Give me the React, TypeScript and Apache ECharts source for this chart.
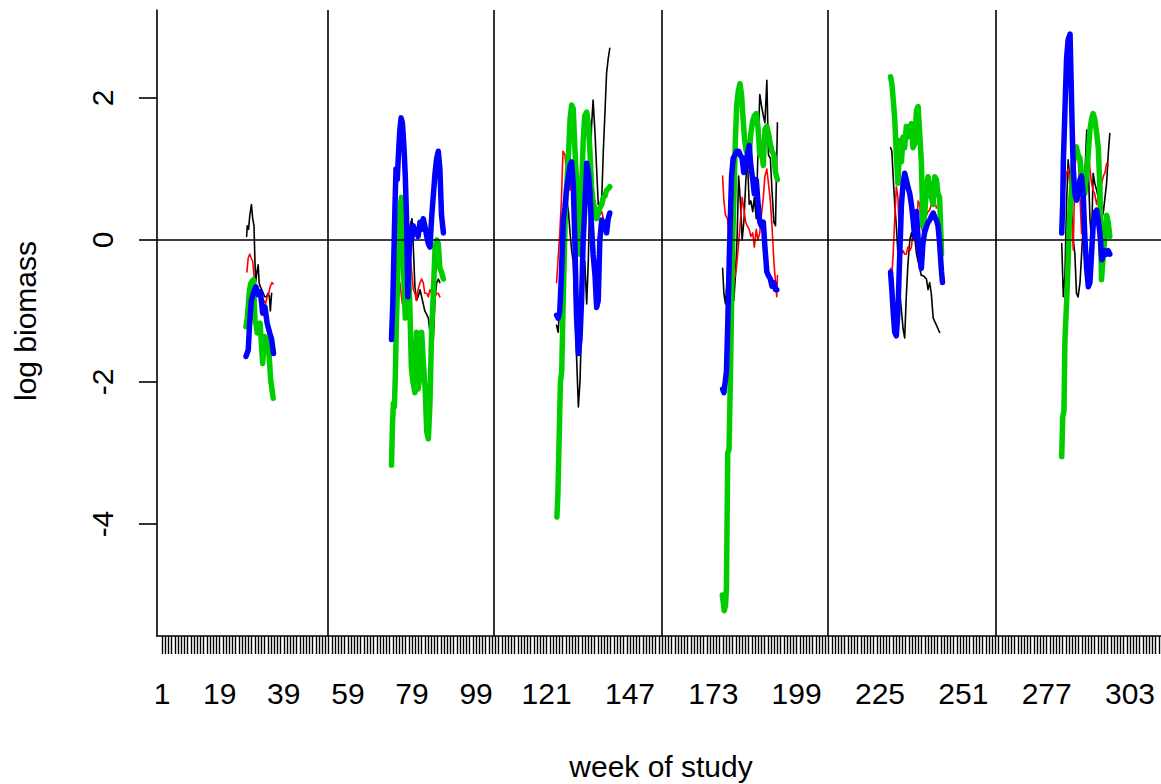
import React, { useEffect, useRef } from 'react';
import * as echarts from 'echarts';

// Axis tick labels
const xTickLabels = [1, 19, 39, 59, 79, 99, 121, 147, 173, 199, 225, 251, 277, 303];
const yTickLabels = [-4, -2, 0, 2];
const weekTicks = Array.from({ length: 312 }, (_, i) => i + 1);
// Year boundaries (week of study)
const yearBreaks = [52.8, 104.6, 157.0, 208.7, 261.1];

// Each series: six seasonal segments of [week, log biomass]
const blackSegs: number[][][] = [
  [[27.4,0.05],[27.6,0.2],[28.0,0.15],[28.4,0.35],[28.9,0.5],[29.3,0.3],[29.7,0.2],[30.0,-0.3],[30.2,-0.6],[30.6,-0.45],[31.0,-0.35],[31.3,-0.6],[31.6,-0.65],[32.1,-0.7],[32.6,-0.75],[33.1,-0.8],[33.6,-0.8],[34.1,-0.75],[34.5,-0.8],[34.8,-1.0],[35.2,-0.75]],
  [[73.3,-0.9],[73.7,-1.2],[74.1,-0.8],[74.5,-0.5],[75.2,-0.3],[76.0,-0.2],[76.8,-0.1],[77.5,0.0],[78.4,0.2],[79.0,0.3],[79.4,-0.1],[79.9,-0.65],[80.4,-0.85],[80.9,-0.8],[81.5,-0.7],[82.0,-0.8],[82.5,-0.9],[83.0,-1.0],[83.6,-1.05],[84.1,-1.1],[84.6,-1.3],[85.1,-1.5],[85.6,-1.45],[86.2,-0.8],[86.7,-0.6],[87.2,-0.55],[87.7,-0.6]],
  [[124.1,-1.2],[124.6,-1.3],[125.1,-0.9],[125.6,-0.4],[126.2,0.2],[126.7,0.5],[127.2,0.6],[127.8,0.4],[128.3,0.1],[128.8,-0.15],[129.3,-0.3],[129.8,-0.9],[130.3,-1.6],[130.9,-2.35],[131.4,-2.0],[131.9,-1.2],[132.4,-0.5],[132.9,-0.3],[133.5,-0.9],[134.0,-0.3],[134.5,0.7],[135.0,1.6],[135.5,1.97],[136.1,1.5],[136.6,1.0],[137.1,0.5],[137.6,0.5],[138.2,0.6],[138.7,1.27],[139.2,1.8],[139.7,2.35],[140.2,2.55],[140.7,2.7]],
  [[175.9,-0.4],[176.3,-0.75],[176.8,-0.9],[177.4,-0.5],[177.9,-0.3],[178.4,-0.4],[178.9,-0.6],[179.4,-0.85],[179.9,-0.5],[180.4,0.0],[180.9,0.9],[181.5,0.5],[182.0,0.0],[182.6,0.3],[183.1,0.8],[183.6,1.2],[184.2,0.5],[184.7,0.55],[185.3,0.4],[185.8,0.6],[186.4,0.3],[186.9,1.2],[187.5,2.05],[188.0,1.9],[188.6,1.75],[189.1,1.65],[189.7,2.25],[190.2,1.2],[190.8,1.15],[191.3,0.7],[191.9,0.25],[192.4,0.2],[193.0,1.65]],
  [[228.3,1.3],[228.7,1.25],[229.1,0.9],[229.6,0.5],[230.1,0.2],[230.6,-0.2],[231.1,-0.7],[231.7,-1.0],[232.2,-1.25],[232.7,-1.38],[233.2,-0.8],[233.7,-0.35],[234.3,0.0],[234.8,0.1],[235.3,0.0],[235.8,0.05],[236.4,-0.2],[236.9,-0.3],[237.4,-0.4],[237.9,-0.5],[238.4,-0.5],[238.9,-0.52],[239.5,-0.55],[240.0,-0.7],[240.5,-0.6],[241.0,-0.75],[241.6,-1.1],[242.1,-1.15],[242.6,-1.2],[243.1,-1.25],[243.6,-1.3]],
  [[281.7,-0.05],[282.2,-0.8],[282.7,-0.5],[283.2,0.5],[283.7,1.13],[284.3,0.8],[284.8,0.4],[285.3,0.0],[285.8,-0.2],[286.3,-0.75],[286.8,-0.8],[287.4,-0.6],[287.9,-0.2],[288.4,0.2],[288.9,0.9],[289.5,1.55],[290.0,1.0],[290.5,0.3],[291.0,0.0],[291.5,0.94],[292.0,0.8],[292.6,0.7],[293.1,0.6],[293.6,0.5],[294.2,0.3],[294.7,0.4],[295.2,0.6],[295.7,0.8],[296.2,1.2],[296.7,1.5]],
];

const redSegs: number[][][] = [
  [[27.5,-0.45],[27.9,-0.25],[28.4,-0.2],[28.8,-0.25],[29.3,-0.3],[29.8,-0.55],[30.3,-0.65],[30.8,-0.7],[31.3,-0.75],[31.8,-0.8],[32.3,-0.85],[32.8,-0.85],[33.3,-0.9],[33.8,-0.8],[34.3,-0.75],[34.8,-0.65],[35.3,-0.6],[35.7,-0.62]],
  [[73.3,-0.4],[73.7,-0.75],[74.1,-0.95],[74.5,-0.7],[75.2,-0.6],[76.0,-0.9],[76.8,-0.6],[77.5,-0.3],[78.4,-0.2],[78.9,-0.45],[79.4,-0.7],[79.9,-0.75],[80.4,-0.85],[80.9,-0.7],[81.5,-0.6],[82.0,-0.55],[82.5,-0.6],[83.0,-0.75],[83.6,-0.75],[84.1,-0.8],[84.6,-0.7],[85.1,-0.75],[85.6,-0.8],[86.2,-0.8],[86.7,-0.75],[87.2,-0.75],[87.7,-0.8]],
  [[124.1,-0.6],[124.6,-0.25],[125.1,0.1],[125.6,0.55],[126.1,1.25],[126.7,1.2],[127.2,0.95],[127.8,0.8],[128.3,0.7],[128.8,0.9],[129.3,0.75],[129.8,0.6],[130.3,0.4],[130.9,0.5],[131.4,0.75],[131.9,0.7],[132.4,0.8],[132.9,0.9],[133.5,1.0],[134.0,0.8],[134.5,0.6],[135.0,0.5],[135.5,0.45],[136.1,0.5],[136.6,0.45],[137.1,0.4],[137.6,0.35],[138.2,0.4],[138.7,0.3]],
  [[175.9,0.9],[176.3,0.55],[176.8,0.35],[177.4,0.3],[177.9,0.1],[178.4,-0.3],[178.9,-0.45],[179.4,-0.55],[179.9,-0.5],[180.4,-0.3],[181.0,0.0],[181.5,0.3],[182.0,0.6],[182.5,0.45],[183.1,0.25],[183.6,0.2],[184.2,0.15],[184.7,0.05],[185.3,0.1],[185.8,-0.1],[186.4,0.15],[186.9,0.0],[187.5,0.1],[188.0,0.35],[188.6,0.6],[189.1,0.9],[189.7,1.0],[190.2,0.8],[190.8,0.55],[191.3,0.2],[191.9,-0.3],[192.4,-0.6],[192.8,-0.8],[193.0,-0.5]],
  [[228.3,-0.4],[228.7,-0.5],[229.1,-0.2],[229.6,0.3],[230.1,0.75],[230.6,0.6],[231.1,0.0],[231.7,-0.2],[232.2,-0.15],[232.7,-0.2],[233.2,-0.2],[233.7,-0.1],[234.3,-0.15],[234.8,-0.1],[235.3,0.1],[235.8,0.0],[236.4,0.2],[236.9,0.55],[237.4,0.5],[237.9,0.2],[238.4,0.1],[238.9,0.25],[239.5,0.35],[240.0,0.4],[240.5,0.42],[241.0,0.5],[241.6,0.52],[242.1,0.55],[242.6,0.45]],
  [[281.7,0.3],[282.2,0.6],[282.7,0.8],[283.2,0.95],[283.7,1.0],[284.3,0.75],[284.8,0.3],[285.3,-0.14],[285.8,1.0],[286.3,1.34],[286.8,1.2],[287.4,0.6],[287.9,0.09],[288.4,0.4],[288.9,0.8],[289.5,1.2],[290.0,1.31],[290.5,1.0],[291.0,0.8],[291.5,0.7],[292.0,0.65],[292.6,0.5],[293.1,0.6],[293.6,0.7],[294.2,0.8],[294.7,0.9],[295.2,0.95],[295.7,1.08],[296.2,1.05]],
];

const greenSegs: number[][][] = [
  [[27.2,-1.22],[27.6,-1.1],[27.9,-0.94],[28.3,-0.7],[28.7,-0.61],[29.1,-0.58],[29.5,-0.56],[30.0,-1.13],[30.4,-1.2],[30.7,-1.31],[31.1,-1.25],[31.6,-1.17],[32.0,-1.45],[32.4,-1.74],[32.8,-1.5],[33.1,-1.36],[33.6,-1.4],[34.2,-1.5],[34.6,-1.75],[34.9,-1.97],[35.3,-2.1],[35.7,-2.23]],
  [[72.6,-3.17],[72.9,-2.6],[73.2,-2.3],[73.5,-2.35],[73.8,-1.9],[74.1,-1.2],[74.5,-0.6],[74.9,0.0],[75.3,0.45],[75.7,0.6],[76.1,0.1],[76.5,-0.6],[76.9,-1.1],[77.3,-0.7],[77.8,-0.3],[78.3,-0.9],[78.8,-1.8],[79.3,-2.0],[79.9,-2.15],[80.4,-1.3],[80.9,-2.1],[81.5,-1.9],[82.0,-1.3],[82.5,-1.7],[83.1,-2.1],[83.6,-2.7],[84.1,-2.8],[84.6,-2.3],[85.1,-1.3],[85.6,-0.8],[86.2,-0.1],[86.7,0.0],[87.2,-0.05],[87.7,-0.4],[88.2,-0.45],[88.8,-0.55]],
  [[124.2,-3.9],[124.5,-3.6],[124.9,-2.8],[125.3,-2.0],[125.7,-1.85],[126.1,-1.0],[126.5,-0.2],[126.9,0.5],[127.3,0.8],[127.8,1.2],[128.3,1.7],[128.8,1.9],[129.3,1.85],[129.8,1.3],[130.3,0.85],[130.9,0.1],[131.4,-0.2],[131.9,0.7],[132.4,1.4],[132.9,1.75],[133.5,1.8],[134.0,1.65],[134.5,1.25],[135.0,0.75],[135.5,0.55],[136.1,0.4],[136.6,0.3],[137.1,0.38],[137.6,0.45],[138.2,0.5],[138.7,0.6],[139.2,0.62],[139.7,0.7],[140.2,0.72],[140.7,0.75]],
  [[175.8,-5.0],[176.1,-5.1],[176.4,-5.22],[176.8,-5.15],[177.1,-4.9],[177.5,-3.0],[177.9,-2.95],[178.3,-2.0],[178.7,-0.9],[179.1,0.1],[179.5,0.7],[179.8,1.3],[180.3,1.9],[180.8,2.1],[181.3,2.2],[181.8,2.05],[182.3,1.7],[182.8,1.4],[183.3,1.25],[183.8,1.3],[184.2,1.2],[184.7,1.5],[185.3,1.68],[185.8,1.75],[186.4,1.78],[186.9,1.6],[187.5,1.2],[188.0,1.25],[188.6,1.05],[189.1,1.55],[189.7,1.6],[190.2,1.5],[190.8,1.35],[191.3,1.25],[191.9,1.2],[192.4,0.95],[193.0,0.85]],
  [[228.3,2.3],[228.7,2.2],[229.1,2.0],[229.6,1.7],[230.1,1.2],[230.6,0.8],[231.2,1.4],[231.7,1.1],[232.2,1.45],[232.7,1.3],[233.2,1.6],[233.7,1.45],[234.3,1.6],[234.8,1.64],[235.3,1.3],[235.8,1.35],[236.4,1.83],[236.9,1.88],[237.4,1.5],[237.9,1.1],[238.4,0.19],[239.0,0.4],[239.5,0.75],[240.0,0.89],[240.5,0.75],[241.0,0.6],[241.6,0.5],[242.1,0.89],[242.6,0.85],[243.1,0.65],[243.6,0.6],[244.2,-0.2]],
  [[281.7,-3.05],[282.0,-2.5],[282.4,-2.4],[282.7,-1.4],[283.2,-0.9],[283.7,-0.3],[284.1,0.3],[284.6,0.6],[285.0,0.9],[285.3,1.08],[285.8,1.22],[286.3,1.31],[286.8,1.2],[287.4,1.15],[287.9,0.9],[288.4,0.75],[288.9,0.65],[289.5,0.95],[290.0,1.22],[290.5,1.55],[291.0,1.7],[291.5,1.78],[292.0,1.7],[292.6,1.5],[293.1,1.3],[293.6,0.75],[294.1,-0.56],[294.7,-0.2],[295.2,0.05],[295.7,0.35],[296.2,0.25],[296.7,0.05]],
];

const blueSegs: number[][][] = [
  [[27.2,-1.64],[27.9,-1.55],[28.4,-1.13],[28.9,-0.85],[29.5,-0.75],[30.3,-0.66],[31.0,-0.77],[31.7,-0.73],[32.4,-1.03],[33.1,-0.94],[33.8,-1.17],[34.6,-1.31],[35.2,-1.4],[35.8,-1.6]],
  [[72.6,-1.4],[73.0,-0.9],[73.3,-0.3],[73.7,0.5],[74.0,1.0],[74.4,0.85],[74.7,1.15],[75.2,1.55],[75.6,1.72],[76.0,1.65],[76.5,1.3],[76.9,0.9],[77.3,0.3],[77.7,-0.8],[78.0,-0.3],[78.4,0.15],[78.9,0.0],[79.4,0.2],[79.9,0.1],[80.4,0.15],[80.9,0.05],[81.5,0.25],[82.0,0.15],[82.5,0.3],[83.0,0.2],[83.6,0.05],[84.1,-0.05],[84.6,-0.1],[85.1,0.3],[85.6,0.6],[86.2,0.95],[86.7,1.15],[87.2,1.25],[87.7,1.0],[88.2,0.35],[88.8,0.1]],
  [[124.1,-1.06],[124.6,-1.1],[125.1,-1.0],[125.6,-0.5],[126.2,0.3],[126.7,0.45],[127.2,0.7],[127.8,0.9],[128.3,1.05],[128.8,1.1],[129.3,0.8],[129.8,0.0],[130.3,-1.05],[130.9,-1.6],[131.4,-1.4],[131.9,-0.85],[132.4,0.0],[132.9,0.45],[133.5,1.08],[134.0,0.95],[134.5,0.7],[135.0,0.2],[135.5,-0.2],[136.1,-0.5],[136.6,-0.95],[137.1,-0.85],[137.6,0.0],[138.2,0.28],[138.7,0.2],[139.2,0.25],[139.7,0.1],[140.2,0.3],[140.7,0.38]],
  [[175.9,-2.1],[176.3,-2.15],[176.7,-2.0],[177.1,-1.85],[177.5,-1.2],[177.9,-0.4],[178.3,0.3],[178.7,0.9],[179.2,1.15],[179.8,1.2],[180.3,1.25],[180.9,1.25],[181.4,1.2],[182.0,1.15],[182.5,0.95],[183.1,1.1],[183.6,1.2],[184.2,1.33],[184.7,1.05],[185.3,0.85],[185.8,0.65],[186.4,0.85],[186.9,0.55],[187.5,0.25],[188.0,0.2],[188.6,0.25],[189.1,-0.1],[189.7,-0.45],[190.2,-0.5],[190.8,-0.55],[191.3,-0.65],[191.9,-0.6],[192.4,-0.7],[192.8,-0.7]],
  [[228.3,-0.45],[228.7,-0.7],[229.1,-1.0],[229.6,-1.3],[230.1,-1.35],[230.6,-1.0],[231.1,-0.3],[231.7,0.5],[232.2,0.8],[232.7,0.94],[233.2,0.85],[233.7,0.75],[234.3,0.65],[234.8,0.5],[235.3,0.3],[235.8,0.05],[236.4,0.4],[236.9,0.0],[237.4,-0.2],[237.9,-0.4],[238.4,-0.05],[238.9,0.1],[239.5,0.19],[240.0,0.25],[240.5,0.28],[241.0,0.33],[241.6,0.38],[242.1,0.32],[242.6,0.28],[243.1,0.2],[243.6,-0.05],[244.2,-0.45],[244.5,-0.6]],
  [[281.7,0.1],[282.0,0.5],[282.2,1.1],[282.7,1.83],[283.2,2.55],[283.7,2.82],[284.3,2.9],[284.6,2.3],[285.0,1.5],[285.3,1.0],[285.8,0.65],[286.3,0.56],[286.8,0.65],[287.4,0.85],[287.9,0.9],[288.4,0.65],[288.9,0.05],[289.5,-0.42],[290.0,-0.66],[290.5,-0.6],[291.0,-0.2],[291.5,0.2],[292.0,0.38],[292.6,0.42],[293.1,0.28],[293.6,0.1],[294.2,-0.28],[294.7,-0.2],[295.2,-0.15],[295.7,-0.2],[296.2,-0.15],[296.7,-0.2]],
];

const FONT = "'Liberation Sans', Arial, sans-serif";

export default function App() {
  const ref = useRef<HTMLDivElement>(null);
  useEffect(() => {
    const chart = echarts.init(ref.current!, null, { renderer: 'svg' });
    const defs = [
      { segs: blackSegs, color: '#000000', width: 1.6 },
      { segs: redSegs, color: '#ff0000', width: 1.6 },
      { segs: greenSegs, color: '#00cd00', width: 5.5 },
      { segs: blueSegs, color: '#0000ff', width: 5.5 },
    ];
    const series: any[] = [];
    let z = 2;
    defs.forEach((d) => {
      d.segs.forEach((seg) => {
        series.push({
          type: 'line',
          data: seg,
          symbol: 'none',
          showSymbol: false,
          silent: true,
          z: z,
          lineStyle: { color: d.color, width: d.width, cap: 'round', join: 'round' },
        });
      });
      z += 1;
    });
    series.push({
      type: 'line',
      data: [[1, null]],
      symbol: 'none',
      silent: true,
      z: 20,
      markLine: {
        silent: true,
        symbol: 'none',
        label: { show: false },
        lineStyle: { color: '#000', width: 1.6, type: 'solid' },
        data: [{ yAxis: 0 }, ...yearBreaks.map((w) => ({ xAxis: w }))],
      },
    });
    const option: any = {
      animation: false,
      backgroundColor: '#ffffff',
      grid: { left: 157, top: 10, right: 0, bottom: 148, containLabel: false },
      xAxis: {
        type: 'value',
        min: -0.56,
        max: 312.67,
        axisLine: { show: true, onZero: false, lineStyle: { color: '#000', width: 1.6 } },
        axisTick: { show: true, length: 18, customValues: weekTicks, lineStyle: { color: '#000', width: 1.4 } },
        axisLabel: { show: true, customValues: xTickLabels, margin: 42, fontSize: 30, fontFamily: FONT, color: '#000', hideOverlap: false },
        splitLine: { show: false },
      },
      yAxis: {
        type: 'value',
        min: -5.577,
        max: 3.239,
        axisLine: { show: true, onZero: false, lineStyle: { color: '#000', width: 1.6 } },
        axisTick: { show: true, length: 18, customValues: yTickLabels, lineStyle: { color: '#000', width: 1.6 } },
        axisLabel: { show: true, customValues: yTickLabels, rotate: 90, margin: 40, fontSize: 30, fontFamily: FONT, color: '#000' },
        splitLine: { show: false },
      },
      graphic: [
        {
          type: 'text', x: 661, y: 766, silent: true,
          style: { text: 'week of study', fontSize: 30, fontFamily: FONT, fill: '#000', textAlign: 'center', textVerticalAlign: 'middle' },
        },
        {
          type: 'text', x: 25.5, y: 321, rotation: Math.PI / 2, silent: true,
          style: { text: 'log biomass', fontSize: 30, fontFamily: FONT, fill: '#000', textAlign: 'center', textVerticalAlign: 'middle' },
        },
      ],
      series,
    };
    chart.setOption(option);
    return () => chart.dispose();
  }, []);
  return (
    <div
      ref={ref}
      style={{ position: 'absolute', left: 0, top: 0, width: 1161, height: 784, background: '#fff' }}
    />
  );
}
